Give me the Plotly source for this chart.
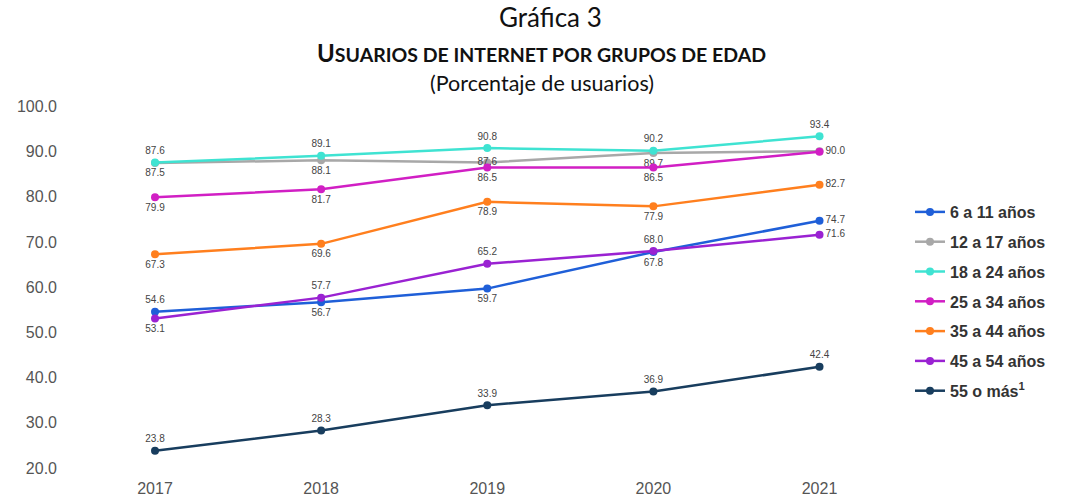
import plotly.graph_objects as go

years = [2017, 2018, 2019, 2020, 2021]

series_names = ["6 a 11 años", "12 a 17 años", "18 a 24 años", "25 a 34 años",
                "35 a 44 años", "45 a 54 años", "55 o más<sup>1</sup>"]

edad_6_11 = [54.6, 56.7, 59.7, 67.8, 74.7]
edad_12_17 = [87.5, 88.1, 87.6, 89.7, 90.1]
edad_18_24 = [87.6, 89.1, 90.8, 90.2, 93.4]
edad_25_34 = [79.9, 81.7, 86.5, 86.5, 90.0]
edad_35_44 = [67.3, 69.6, 78.9, 77.9, 82.7]
edad_45_54 = [53.1, 57.7, 65.2, 68.0, 71.6]
edad_55_mas = [23.8, 28.3, 33.9, 36.9, 42.4]

y_ticks = [20, 30, 40, 50, 60, 70, 80, 90, 100]

colors = ["#1f5fd8", "#a8a8a8", "#3fe3d2", "#d11fc4", "#ff7f1e", "#9a22d2", "#183d5e"]
values = [edad_6_11, edad_12_17, edad_18_24, edad_25_34, edad_35_44, edad_45_54, edad_55_mas]
positions = [
    ["top center", "bottom center", "bottom center", "bottom center", "middle right"],
    ["bottom center", "bottom center", "middle center", "bottom center", "middle right"],
    ["top center"] * 5,
    ["bottom center", "bottom center", "bottom center", "bottom center", "middle right"],
    ["bottom center", "bottom center", "bottom center", "bottom center", "middle right"],
    ["bottom center", "top center", "top center", "top center", "middle right"],
    ["top center"] * 5,
]

fig = go.Figure()
for i, (name, vals) in enumerate(zip(series_names, values)):
    labels = [f"{v:.1f}" for v in vals]
    if i == 1:
        labels[-1] = ""
    fig.add_trace(go.Scatter(
        x=years, y=vals, name=name, mode="lines+markers+text",
        line=dict(color=colors[i], width=2.5),
        marker=dict(color=colors[i], size=8),
        text=labels, textposition=positions[i],
        textfont=dict(family="Arial", size=10, color="#444444"),
        legendgroup=f"g{i}",
    ))

L, R, T, B = 58, 200, 102, 19
W = 1076 - L - R
H = 496 - T - B


def px(x):
    return (x - L) / W


def py(y):
    return (496 - B - y) / H


fig.update_layout(
    width=1076, height=496,
    margin=dict(l=L, r=R, t=T, b=B),
    paper_bgcolor="white", plot_bgcolor="white",
    showlegend=True,
    legend=dict(x=px(910), y=py(195), xanchor="left", yanchor="top",
                font=dict(family="Arial", size=16, color="#333333", weight="bold"),
                tracegroupgap=6, itemwidth=30),
    xaxis=dict(range=[2016.416, 2021.34], tickvals=years, showgrid=False, zeroline=False,
               showline=False, automargin=False,
               tickfont=dict(family="Arial", size=16, color="#555555")),
    yaxis=dict(range=[18, 101], tickvals=y_ticks, tickformat=".1f", showgrid=False,
               zeroline=False, showline=False, automargin=False,
               tickfont=dict(family="Arial", size=16, color="#555555")),
    annotations=[
        dict(text="Gráfica 3", xref="paper", yref="paper", x=px(550), y=py(17),
             yanchor="middle", showarrow=False,
             font=dict(family="Lato", size=26, color="#111111")),
        dict(text="<b><span style='font-size:24px'>U</span>SUARIOS DE INTERNET POR GRUPOS DE EDAD</b>",
             xref="paper", yref="paper", x=px(541), y=py(52), yanchor="middle",
             showarrow=False, font=dict(family="Lato", size=19.5, color="#111111")),
        dict(text="(Porcentaje de usuarios)", xref="paper", yref="paper", x=px(542),
             y=py(83), yanchor="middle", showarrow=False,
             font=dict(family="Lato", size=21.5, color="#111111")),
    ],
)

fig.write_html("out.html", config={"displayModeBar": False},
               post_script="document.body.style.margin='0';")
